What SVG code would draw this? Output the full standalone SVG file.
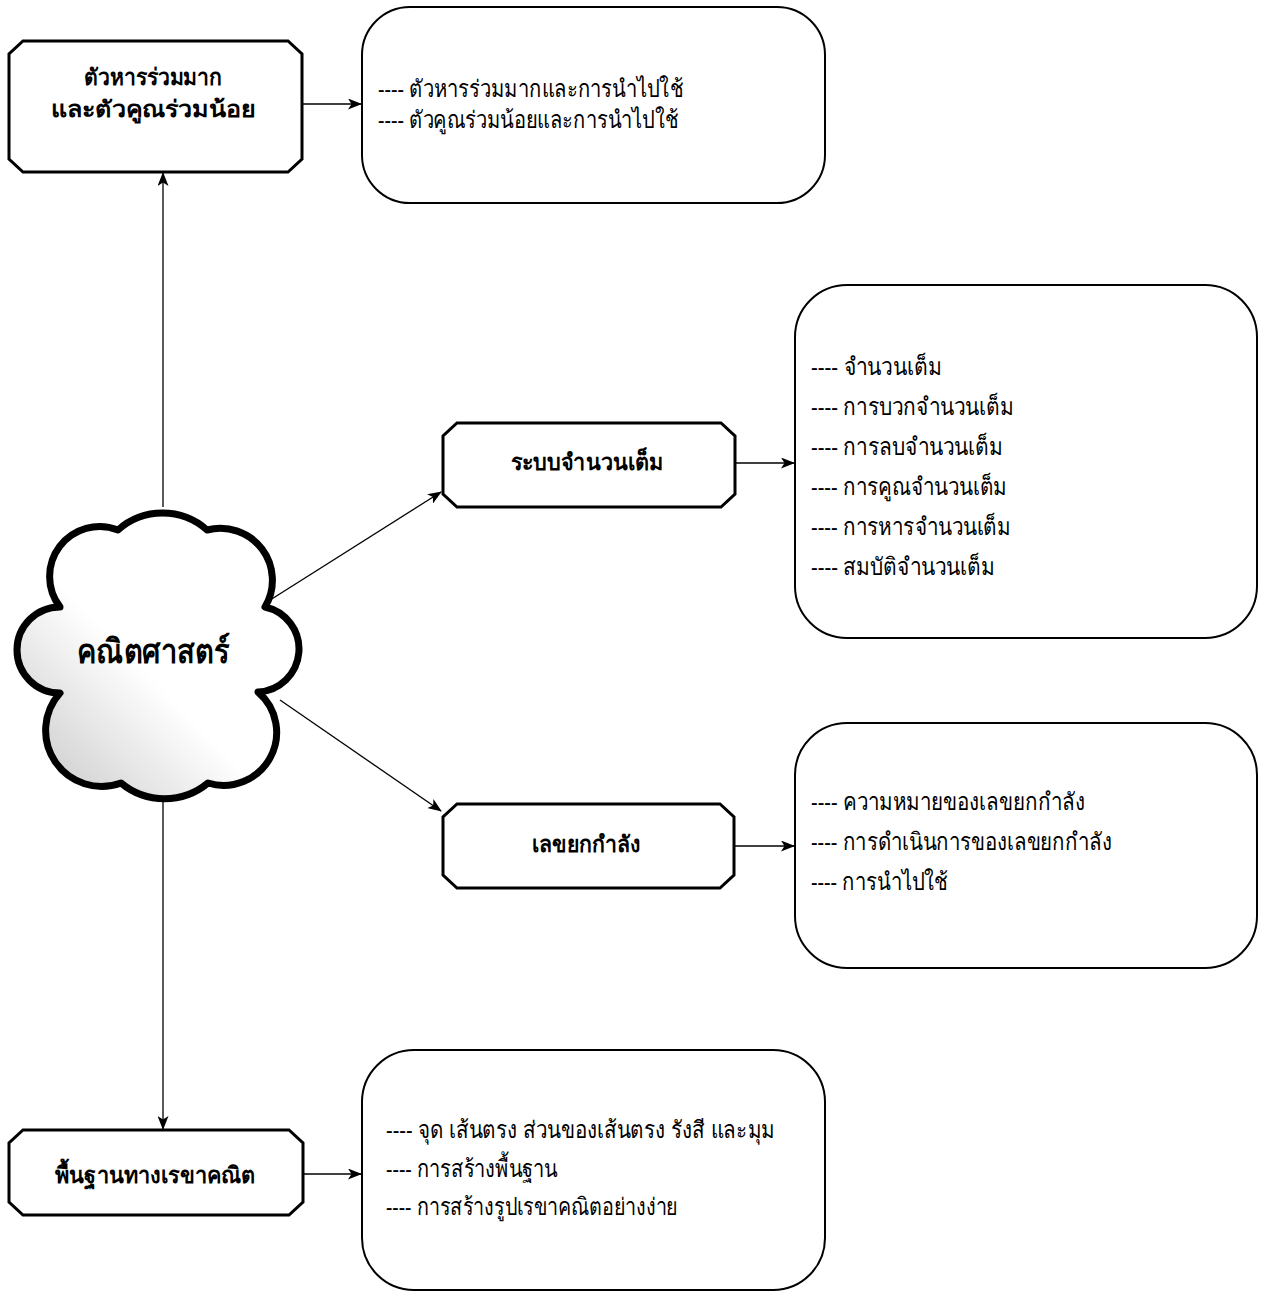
<svg xmlns="http://www.w3.org/2000/svg" width="1264" height="1292" viewBox="0 0 1264 1292">
<style>
.oct{fill:#fff;stroke:#000;stroke-width:3;stroke-linejoin:miter}
.rbox{fill:#fff;stroke:#000;stroke-width:2}
.lbl{font-family:"Noto Sans","DejaVu Sans",sans-serif;font-size:23px;font-weight:bold;fill:#000;text-anchor:middle}
.item{font-family:"Noto Sans","DejaVu Sans",sans-serif;font-size:24px;fill:#000}
.edge{fill:none;stroke:#000;stroke-width:1.3}
</style>
<defs>
<marker id="arr" markerUnits="userSpaceOnUse" markerWidth="14" markerHeight="11" refX="13" refY="5.5" orient="auto">
<path d="M0,0 L14,5.5 L0,11 L3.5,5.5 Z" fill="#000"/>
</marker>
<linearGradient id="cg" x1="1" y1="0" x2="0" y2="1">
<stop offset="0" stop-color="#fff"/>
<stop offset="0.55" stop-color="#fff"/>
<stop offset="1" stop-color="#c4c4c4"/>
</linearGradient>
</defs>

<g id="connectors">
<line class="edge" x1="163" y1="507" x2="163" y2="173" marker-end="url(#arr)"/>
<line class="edge" x1="163" y1="800" x2="163" y2="1129" marker-end="url(#arr)"/>
<line class="edge" x1="267" y1="602" x2="441" y2="492" marker-end="url(#arr)"/>
<line class="edge" x1="280" y1="700" x2="441" y2="811" marker-end="url(#arr)"/>
<line class="edge" x1="302" y1="104" x2="361" y2="104" marker-end="url(#arr)"/>
<line class="edge" x1="735" y1="463" x2="794" y2="463" marker-end="url(#arr)"/>
<line class="edge" x1="735" y1="846" x2="794" y2="846" marker-end="url(#arr)"/>
<line class="edge" x1="303" y1="1174" x2="361" y2="1174" marker-end="url(#arr)"/>
</g>

<g id="cloud">
<path d="M118,530 A67,67 0 0 1 207,530 A52,52 0 0 1 265,607 A43,43 0 0 1 258,692 A53,53 0 0 1 208,783 A68,68 0 0 1 121,783 A56,56 0 0 1 60,693 A43,43 0 0 1 60,607 A50,50 0 0 1 118,530 Z" fill="url(#cg)" stroke="#000" stroke-width="7" stroke-linejoin="round"/>
<text class="lbl" x="153" y="663" style="font-size:34px" textLength="153" lengthAdjust="spacingAndGlyphs">คณิตศาสตร์</text>
</g>

<g id="node-gcd-lcm">
<polygon class="oct" points="23,41 288,41 302,54 302,159 288,172 23,172 9,159 9,54"/>
<text class="lbl" x="153" y="85" textLength="138" lengthAdjust="spacingAndGlyphs">ตัวหารร่วมมาก</text>
<text class="lbl" x="153" y="117" textLength="205" lengthAdjust="spacingAndGlyphs">และตัวคูณร่วมน้อย</text>
</g>
<g id="node-gcd-lcm-items">
<rect class="rbox" x="362" y="7" width="463" height="196" rx="48" ry="48"/>
<text class="item" x="378" y="97" textLength="305" lengthAdjust="spacingAndGlyphs">---- ตัวหารร่วมมากและการนำไปใช้</text>
<text class="item" x="378" y="128" textLength="300" lengthAdjust="spacingAndGlyphs">---- ตัวคูณร่วมน้อยและการนำไปใช้</text>
</g>

<g id="node-integers">
<polygon class="oct" points="457,423 721,423 735,436 735,494 721,507 457,507 443,494 443,436"/>
<text class="lbl" x="587" y="470" textLength="153" lengthAdjust="spacingAndGlyphs">ระบบจำนวนเต็ม</text>
</g>
<g id="node-integers-items">
<rect class="rbox" x="795" y="285" width="462" height="353" rx="52" ry="52"/>
<text class="item" x="811" y="375" textLength="131" lengthAdjust="spacingAndGlyphs">---- จำนวนเต็ม</text>
<text class="item" x="811" y="415" textLength="203" lengthAdjust="spacingAndGlyphs">---- การบวกจำนวนเต็ม</text>
<text class="item" x="811" y="455" textLength="192" lengthAdjust="spacingAndGlyphs">---- การลบจำนวนเต็ม</text>
<text class="item" x="811" y="495" textLength="196" lengthAdjust="spacingAndGlyphs">---- การคูณจำนวนเต็ม</text>
<text class="item" x="811" y="535" textLength="200" lengthAdjust="spacingAndGlyphs">---- การหารจำนวนเต็ม</text>
<text class="item" x="811" y="575" textLength="184" lengthAdjust="spacingAndGlyphs">---- สมบัติจำนวนเต็ม</text>
</g>

<g id="node-exponents">
<polygon class="oct" points="457,804 720,804 734,817 734,875 720,888 457,888 443,875 443,817"/>
<text class="lbl" x="586" y="852" textLength="108" lengthAdjust="spacingAndGlyphs">เลขยกกำลัง</text>
</g>
<g id="node-exponents-items">
<rect class="rbox" x="795" y="723" width="462" height="245" rx="52" ry="52"/>
<text class="item" x="811" y="810" textLength="274" lengthAdjust="spacingAndGlyphs">---- ความหมายของเลขยกกำลัง</text>
<text class="item" x="811" y="850" textLength="301" lengthAdjust="spacingAndGlyphs">---- การดำเนินการของเลขยกกำลัง</text>
<text class="item" x="811" y="890" textLength="137" lengthAdjust="spacingAndGlyphs">---- การนำไปใช้</text>
</g>

<g id="node-geometry">
<polygon class="oct" points="23,1130 289,1130 303,1143 303,1202 289,1215 23,1215 9,1202 9,1143"/>
<text class="lbl" x="155" y="1183" textLength="200" lengthAdjust="spacingAndGlyphs">พื้นฐานทางเรขาคณิต</text>
</g>
<g id="node-geometry-items">
<rect class="rbox" x="362" y="1050" width="463" height="240" rx="52" ry="52"/>
<text class="item" x="386" y="1138" textLength="389" lengthAdjust="spacingAndGlyphs">---- จุด เส้นตรง ส่วนของเส้นตรง รังสี และมุม</text>
<text class="item" x="386" y="1177" textLength="171" lengthAdjust="spacingAndGlyphs">---- การสร้างพื้นฐาน</text>
<text class="item" x="386" y="1215" textLength="292" lengthAdjust="spacingAndGlyphs">---- การสร้างรูปเรขาคณิตอย่างง่าย</text>
</g>
</svg>
